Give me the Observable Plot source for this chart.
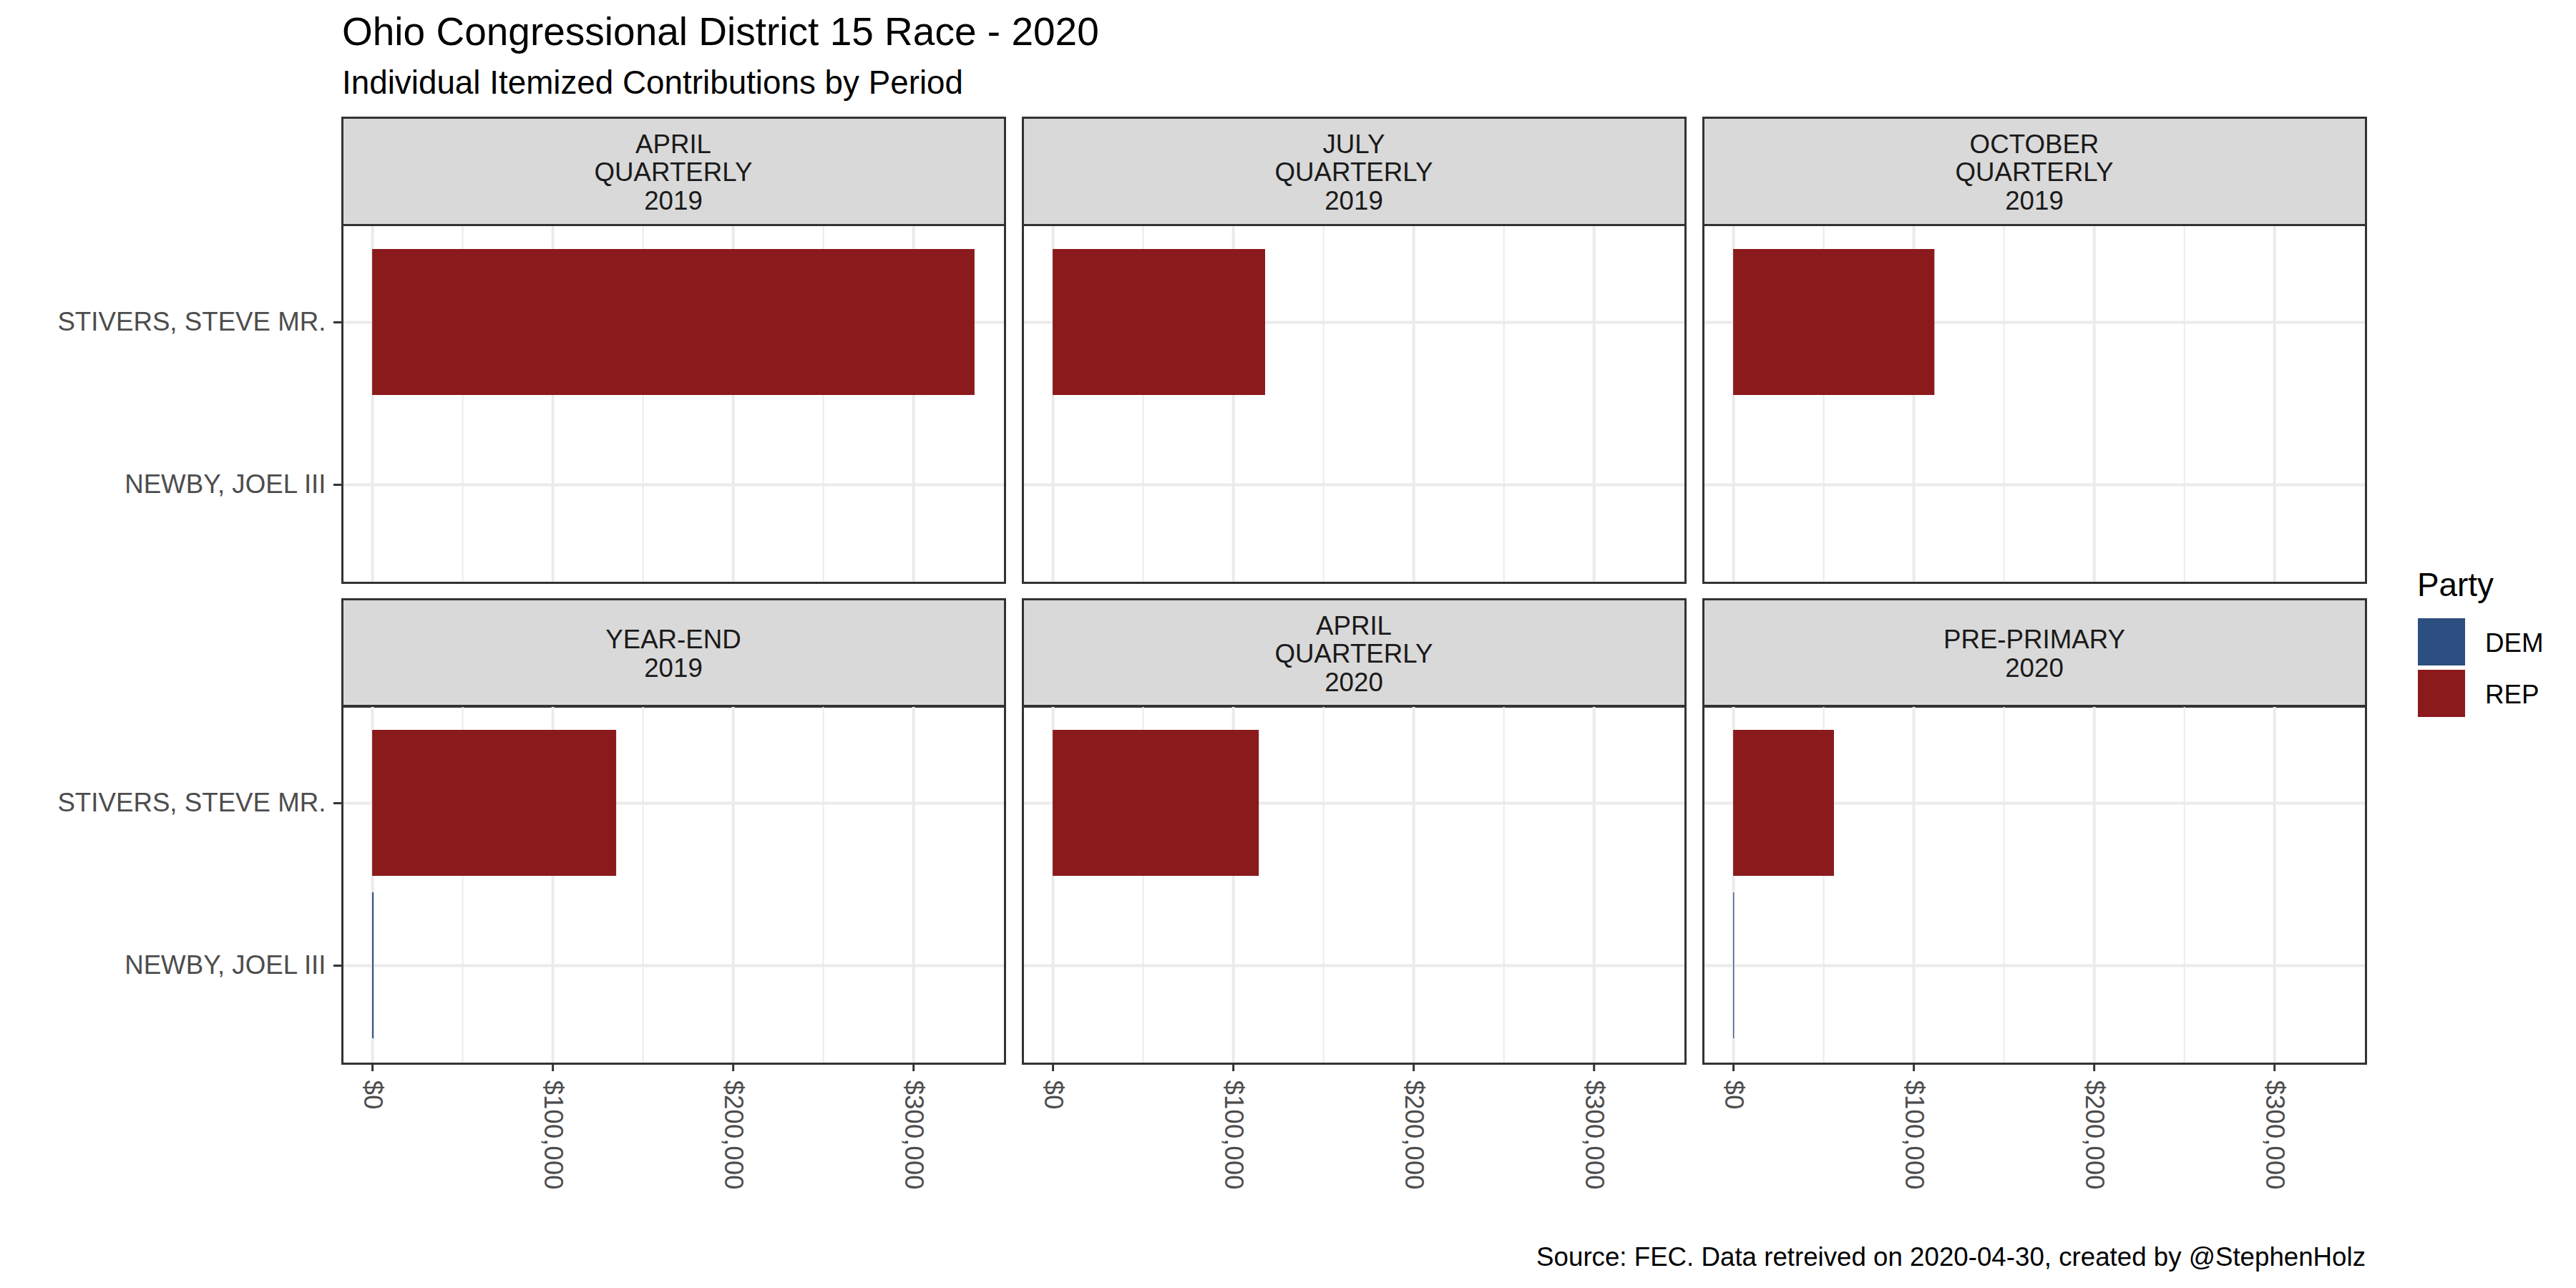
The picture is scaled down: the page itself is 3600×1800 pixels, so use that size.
<!DOCTYPE html>
<html>
<head>
<meta charset="utf-8">
<script src="https://cdn.jsdelivr.net/npm/d3@7"></script>
<script src="https://cdn.jsdelivr.net/npm/@observablehq/plot@0.6"></script>
<style>
  html, body { margin: 0; padding: 0; background: #fff; }
  #root { position: relative; width: 3600px; height: 1800px; overflow: hidden; background: #fff;
          font-family: "Liberation Sans", Arial, sans-serif; }
  .abs { position: absolute; white-space: nowrap; line-height: 1; }
  .strip { position: absolute; box-sizing: border-box; background: #D9D9D9; border: 3px solid #333333;
           display: flex; align-items: center; justify-content: center; text-align: center;
           color: #1A1A1A; font-size: 36.7px; line-height: 39.6px; white-space: pre-line; padding-top: 4px; }
  .panel { position: absolute; }
  .swatch { position: absolute; }
</style>
</head>
<body>
<div id="root"></div>
<script>
// ---------------- data ----------------
const titleText = "Ohio Congressional District 15 Race - 2020";
const subtitleText = "Individual Itemized Contributions by Period";
const captionText = "Source: FEC. Data retreived on 2020-04-30, created by @StephenHolz";
const legendTitle = "Party";

const periods = [
  "APRIL\nQUARTERLY\n2019",
  "JULY\nQUARTERLY\n2019",
  "OCTOBER\nQUARTERLY\n2019",
  "YEAR-END\n2019",
  "APRIL\nQUARTERLY\n2020",
  "PRE-PRIMARY\n2020"
];
const candidates = ["STIVERS, STEVE MR.", "NEWBY, JOEL III"];
const candidateParty = ["REP", "DEM"];
const stiversValues = [334000, 117800, 111600, 135300, 114300, 55900];
const newbyValues = [null, null, null, 800, null, 500];
const parties = ["DEM", "REP"];
const partyColors = ["#2C4E80", "#8B1A1C"];
const xTicks = [0, 100000, 200000, 300000];
const xMinorTicks = [50000, 150000, 250000];

const data = periods.flatMap((p, i) => [
  {period: p, candidate: candidates[0], party: candidateParty[0], value: stiversValues[i]},
  {period: p, candidate: candidates[1], party: candidateParty[1], value: newbyValues[i]}
]).filter(d => d.value != null);

// ---------------- layout ----------------
const root = document.getElementById("root");
const FONT = "Liberation Sans, Arial, sans-serif";
const panelLefts = [478, 1429, 2380];
const panelTops = [314, 986];
const stripTops = [164, 837];
const panelW = 926, panelH = 500, stripH = 150;
const M = d3.max(data, d => d.value);
const xDomain = [-0.05 * M, 1.05 * M];

function addText(txt, left, baseline, size, color, opts = {}) {
  const el = document.createElement("div");
  el.className = "abs";
  el.textContent = txt;
  el.style.fontSize = size + "px";
  el.style.color = color;
  el.style.top = (baseline - 0.8465 * size) + "px";
  if (opts.right != null) el.style.right = opts.right + "px";
  else el.style.left = left + "px";
  root.appendChild(el);
  return el;
}

addText(titleText, 478, 64, 55, "#000");
addText(subtitleText, 478, 131.6, 45.8, "#000");
addText(captionText, null, 1770, 36.7, "#000", {right: 3600 - 3306});

// legend
addText(legendTitle, 3378, 834, 45.8, "#000");
parties.forEach((p, i) => {
  const sw = document.createElement("div");
  sw.className = "swatch";
  sw.style.left = "3379px";
  sw.style.top = (864 + i * 72) + "px";
  sw.style.width = "66px";
  sw.style.height = "66px";
  sw.style.background = partyColors[i];
  root.appendChild(sw);
  addText(p, 3473, 911.7 + i * 72.3, 36.7, "#000");
});

// panels
periods.forEach((period, idx) => {
  const row = Math.floor(idx / 3), col = idx % 3;
  const left = panelLefts[col], top = panelTops[row];

  // strip
  const strip = document.createElement("div");
  strip.className = "strip";
  strip.style.left = (left - 1.5) + "px";
  strip.style.top = (stripTops[row] - 1.5) + "px";
  strip.style.width = (panelW + 3) + "px";
  strip.style.height = (stripH + 3) + "px";
  strip.textContent = period;
  root.appendChild(strip);

  const ml = col === 0 ? left : 2;
  const mb = row === 1 ? 220 : 2;
  const mt = 2, mr = 2;
  const sub = data.filter(d => d.period === period);

  const marks = [
    Plot.gridX(xMinorTicks, {stroke: "#EBEBEB", strokeOpacity: 1, strokeWidth: 2}),
    Plot.gridX(xTicks, {stroke: "#EBEBEB", strokeOpacity: 1, strokeWidth: 4}),
    Plot.gridY(candidates, {stroke: "#EBEBEB", strokeOpacity: 1, strokeWidth: 4}),
    Plot.barX(sub, {x: "value", y: "candidate", fill: "party"}),
    Plot.frame({stroke: "#333333", strokeWidth: 3})
  ];
  if (col === 0) {
    marks.push(Plot.axisY(candidates, {
      tickSize: 12, tickPadding: 11, fontSize: 36.7, fill: "#4D4D4D",
      stroke: "#333333", strokeWidth: 3, label: null
    }));
  }
  if (row === 1) {
    marks.push(Plot.axisX(xTicks, {
      tickSize: 11, tickPadding: 12, tickRotate: 90, fontSize: 36.7, fill: "#4D4D4D",
      stroke: "#333333", strokeWidth: 3, label: null, tickFormat: d3.format("$,.0f")
    }));
  }

  const chart = Plot.plot({
    width: ml + panelW + mr,
    height: mt + panelH + mb,
    marginLeft: ml, marginRight: mr, marginTop: mt, marginBottom: mb,
    style: {fontFamily: FONT, background: "transparent", overflow: "visible"},
    x: {domain: xDomain, axis: null},
    y: {domain: candidates, paddingInner: 0.1, paddingOuter: 0.15, axis: null},
    color: {domain: parties, range: partyColors},
    marks
  });
  chart.classList.add("panel");
  chart.style.position = "absolute";
  chart.style.left = (left - ml) + "px";
  chart.style.top = (top - mt) + "px";
  chart.style.maxWidth = "none";
  root.appendChild(chart);
});
</script>
</body>
</html>
